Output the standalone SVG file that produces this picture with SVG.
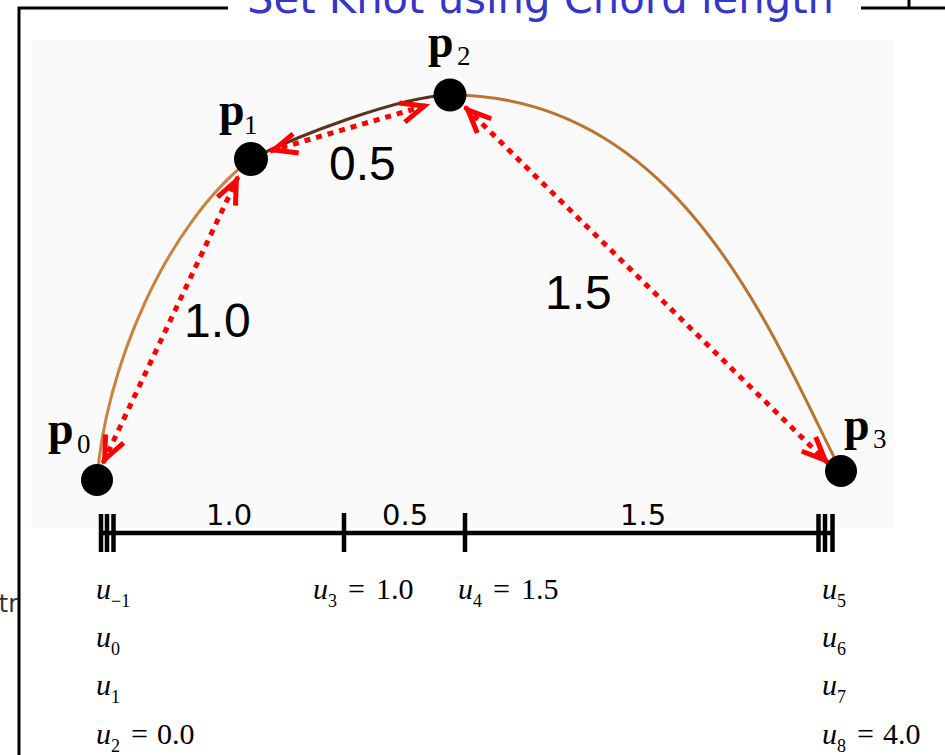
<svg xmlns="http://www.w3.org/2000/svg" width="945" height="755" viewBox="0 0 945 755">
<defs>
<style>
.frame{stroke:#000;stroke-width:3;fill:none}
.title{font-family:"DejaVu Sans",Verdana,sans-serif;font-size:42px;fill:#3535c8}
.dot{fill:#000}
.plab{font-family:"Liberation Serif","Times New Roman",serif;font-weight:bold;font-size:46px;fill:#000}
.psub{font-family:"Liberation Serif","Times New Roman",serif;font-size:27px;fill:#000}
.dist{font-family:"Liberation Sans",Arial,sans-serif;font-size:48px;fill:#000}
.conn{stroke:#ff0000;stroke-width:5;stroke-dasharray:6 6;fill:none}
.axis{stroke:#000;stroke-width:4.5;fill:none}
.tick{stroke:#000;stroke-width:4.5}
.alab{font-family:"DejaVu Sans",Verdana,sans-serif;font-size:29px;fill:#000}
.knot{font-family:"Liberation Serif","Times New Roman",serif;font-size:30px;fill:#000}
.it{font-style:italic}
.sub{font-size:18px}
.side{font-family:"DejaVu Sans",Verdana,sans-serif;font-size:24px;fill:#333}
</style>
<marker id="ah" viewBox="-34 -16 40 32" markerUnits="userSpaceOnUse" markerWidth="40" markerHeight="32" refX="0" refY="0" orient="auto-start-reverse">
<path d="M -27 -10 L -4 0 L -27 10" fill="none" stroke="#ff0000" stroke-width="5"/>
</marker>
</defs>

<g id="frame">
<path class="frame" d="M19 755 V8 H228"/>
<path class="frame" d="M861 8 H945 M909 0 V8"/>
<text class="side" x="18" y="612" text-anchor="end">tr</text>
</g>

<g id="title">
<text class="title" x="247" y="13" textLength="587" lengthAdjust="spacingAndGlyphs">Set Knot using Chord length</text>
</g>

<rect id="background" x="31" y="40" width="863" height="488" fill="#fafafa"/>

<g id="curve" fill="none" stroke-width="3">
<path d="M97 480 C105 370 165 225 251 159" stroke="#c8843e"/>
<path d="M251 159 C297 136 400 96 450 95" stroke="#5a3220"/>
<path d="M450 95 C680 95 771 333 841 471" stroke="#bb7330"/>
</g>

<g id="connectors">
<line class="conn" x1="103" y1="463" x2="238" y2="177" marker-start="url(#ah)" marker-end="url(#ah)"/>
<line class="conn" x1="270" y1="151" x2="428" y2="105" marker-start="url(#ah)" marker-end="url(#ah)"/>
<line class="conn" x1="465" y1="107" x2="828" y2="463" marker-start="url(#ah)" marker-end="url(#ah)"/>
</g>

<g id="p0">
<circle class="dot" cx="97" cy="480" r="16"/>
<text x="48" y="444"><tspan class="plab">p</tspan><tspan class="psub" x="77" y="453">0</tspan></text>
</g>
<g id="p1">
<circle class="dot" cx="251" cy="159" r="17"/>
<text x="219" y="125"><tspan class="plab">p</tspan><tspan class="psub" x="244" y="134">1</tspan></text>
</g>
<g id="p2">
<circle class="dot" cx="450" cy="95" r="16.5"/>
<text x="428" y="57"><tspan class="plab">p</tspan><tspan class="psub" x="457" y="65">2</tspan></text>
</g>
<g id="p3">
<circle class="dot" cx="841" cy="471" r="16"/>
<text x="844" y="440"><tspan class="plab">p</tspan><tspan class="psub" x="873" y="448">3</tspan></text>
</g>

<g id="distances">
<text class="dist" x="184" y="337">1.0</text>
<text class="dist" x="329" y="180">0.5</text>
<text class="dist" x="545" y="309">1.5</text>
</g>

<g id="axis">
<line class="axis" x1="100" y1="533" x2="833" y2="533"/>
<path class="tick" d="M101 514V552M107 514V552M113.5 514V552M818.5 514V552M825 514V552M832.5 514V552M344 513V552M465 513V552"/>
<text class="alab" x="206" y="525">1.0</text>
<text class="alab" x="382" y="525">0.5</text>
<text class="alab" x="620" y="525">1.5</text>
</g>

<g id="knots" class="knot">
<text x="96" y="599"><tspan class="it">u</tspan><tspan class="sub" dy="8">−1</tspan></text>
<text x="96" y="647"><tspan class="it">u</tspan><tspan class="sub" dy="8">0</tspan></text>
<text x="96" y="695"><tspan class="it">u</tspan><tspan class="sub" dy="8">1</tspan></text>
<text x="96" y="744"><tspan class="it">u</tspan><tspan class="sub" dy="8">2</tspan><tspan x="131" y="744">=</tspan><tspan x="157" y="744">0.0</tspan></text>
<text x="313" y="599"><tspan class="it">u</tspan><tspan class="sub" dy="8">3</tspan><tspan x="348" y="599">=</tspan><tspan x="376" y="599">1.0</tspan></text>
<text x="458" y="599"><tspan class="it">u</tspan><tspan class="sub" dy="8">4</tspan><tspan x="493" y="599">=</tspan><tspan x="521" y="599">1.5</tspan></text>
<text x="822" y="599"><tspan class="it">u</tspan><tspan class="sub" dy="8">5</tspan></text>
<text x="822" y="647"><tspan class="it">u</tspan><tspan class="sub" dy="8">6</tspan></text>
<text x="822" y="695"><tspan class="it">u</tspan><tspan class="sub" dy="8">7</tspan></text>
<text x="822" y="744"><tspan class="it">u</tspan><tspan class="sub" dy="8">8</tspan><tspan x="857" y="744">=</tspan><tspan x="883" y="744">4.0</tspan></text>
</g>
</svg>
